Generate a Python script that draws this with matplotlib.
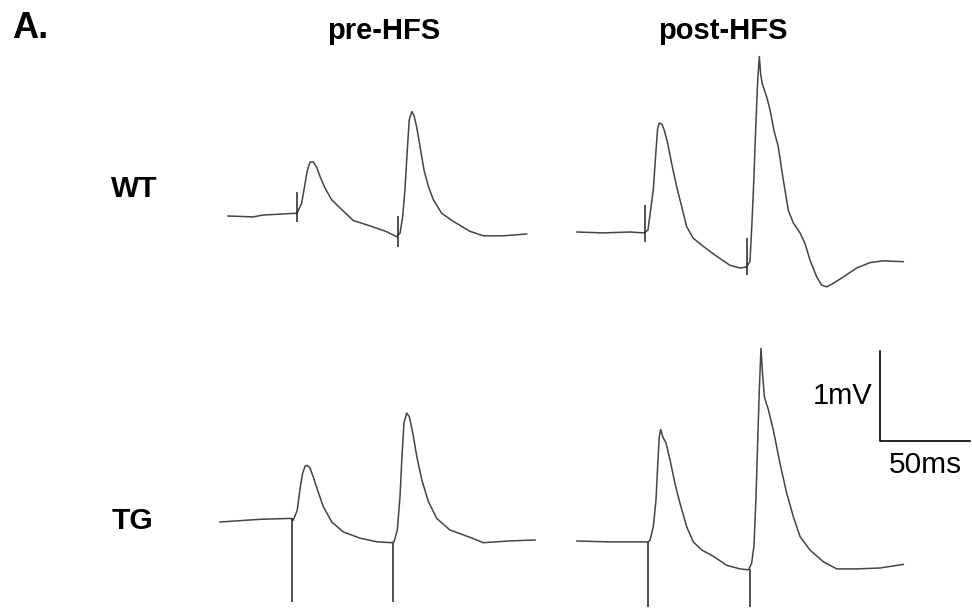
import matplotlib
matplotlib.use("Agg")
import matplotlib.pyplot as plt
import numpy as np

plt.rcParams['font.family'] = ['Liberation Sans', 'DejaVu Sans']

# sweeps: time (ms) from sweep start, voltage (mV) relative to baseline
wt_pre_t = [0, 13.9, 19.4, 37.2, 38.3, 40.9, 42.8, 44.1, 45.6, 47.4, 49.3, 51.1, 53.9, 57.6,
            62.2, 69.6, 78.9, 87.6, 93.7, 95.6, 97.0, 98.3, 99.6, 100.7, 102.1, 103.3, 104.8,
            106.7, 108.9, 111.3, 114.1, 118.7, 125.2, 134.4, 141.8, 152.9, 165.9]
wt_pre_v = [0, -0.01, 0.01, 0.03, 0.03, 0.14, 0.36, 0.51, 0.60, 0.60, 0.54, 0.44, 0.31, 0.18,
            0.09, -0.05, -0.11, -0.17, -0.23, -0.19, -0.01, 0.29, 0.73, 1.07, 1.16, 1.12, 0.99,
            0.77, 0.51, 0.33, 0.18, 0.03, -0.06, -0.17, -0.22, -0.22, -0.20]
wt_pre_stim = [38.3, 94.4]
wt_pre_hi = [0.27, 0.00]
wt_pre_lo = [-0.07, -0.34]

wt_post_t = [0, 14.4, 29.4, 37.2, 39.4, 42.4, 43.9, 44.8, 45.7, 47.1, 48.5, 50.2, 52.6, 55.4,
             58.2, 60.9, 64.6, 70.2, 77.6, 85.0, 90.6, 93.9, 96.1, 97.2, 98.3, 99.4, 100.4,
             101.3, 102.0, 102.9, 105.4, 107.2, 109.4, 111.8, 114.6, 117.4, 120.2, 123.9,
             126.7, 129.4, 133.2, 135.9, 138.7, 142.4, 147.9, 155.4, 162.8, 170.2, 181.3]
wt_post_v = [0, -0.01, 0, -0.01, 0.02, 0.47, 0.91, 1.15, 1.21, 1.20, 1.13, 1.00, 0.76, 0.50,
             0.28, 0.06, -0.07, -0.16, -0.27, -0.37, -0.40, -0.39, -0.33, 0.10, 0.61, 1.21, 1.69,
             1.95, 1.76, 1.65, 1.50, 1.36, 1.13, 0.95, 0.58, 0.24, 0.10, -0.01,
             -0.13, -0.31, -0.50, -0.59, -0.61, -0.57, -0.50, -0.40, -0.34, -0.32, -0.33]
wt_post_stim = [37.8, 94.4]
wt_post_hi = [0.30, -0.07]
wt_post_lo = [-0.11, -0.48]

tg_pre_t = [0, 22.2, 39.4, 40.7, 42.9, 44.4, 45.9, 47.2, 48.5, 50.0, 51.8, 54.1, 57.4, 62.1,
            68.5, 77.8, 87.1, 95.4, 96.7, 98.5, 100.0, 101.1, 102.2, 103.7, 105.2, 107.1, 109.3,
            112.1, 115.7, 120.4, 127.8, 138.9, 146.3, 161.1, 175.0]
tg_pre_v = [0, 0.03, 0.04, 0.02, 0.13, 0.36, 0.54, 0.62, 0.63, 0.60, 0.50, 0.36, 0.17, 0.00,
            -0.11, -0.18, -0.22, -0.23, -0.22, -0.09, 0.28, 0.73, 1.10, 1.21, 1.17, 0.99, 0.73,
            0.47, 0.23, 0.04, -0.09, -0.17, -0.23, -0.21, -0.20]
tg_pre_stim = [40.0, 96.1]
tg_pre_hi = [0.04, -0.23]
tg_pre_lo = [-0.89, -0.89]

tg_post_t = [0, 18.3, 39.4, 40.6, 42.4, 43.9, 44.8, 45.7, 46.5, 47.6, 49.4, 51.7, 54.4, 57.2,
             60.9, 64.6, 69.3, 75.7, 83.2, 90.6, 95.2, 97.0, 98.3, 99.4, 100.4, 101.3, 102.2,
             103.2, 104.1, 106.3, 109.1, 112.8, 116.5, 120.2, 123.9, 129.4, 136.8, 144.3,
             155.4, 168.3, 181.3]
tg_post_v = [0, -0.01, -0.01, 0.01, 0.16, 0.46, 0.83, 1.16, 1.24, 1.16, 1.09, 0.90, 0.64, 0.42,
             0.16, -0.01, -0.10, -0.17, -0.27, -0.31, -0.32, -0.25, -0.06, 0.46, 1.12, 1.68, 2.14,
             1.83, 1.60, 1.46, 1.23, 0.86, 0.53, 0.27, 0.05, -0.10, -0.23, -0.31,
             -0.31, -0.30, -0.26]
tg_post_stim = [39.4, 96.1]
tg_post_hi = [-0.01, -0.31]
tg_post_lo = [-0.73, -0.73]

# layout: 1.8 px per ms, 90 px per mV
PX_MS = 1.8
PX_MV = 90.0
W, H = 972, 609

def ms(px):
    return px / PX_MS

def mv(py):
    return -py / PX_MV

fig = plt.figure(figsize=(W / 100, H / 100), dpi=100)
ax = fig.add_axes([0, 0, 1, 1])
ax.set_xlim(0, ms(W))
ax.set_ylim(mv(H), 0)
ax.axis('off')

sweeps = [
    (wt_pre_t, wt_pre_v, wt_pre_stim, wt_pre_hi, wt_pre_lo, 228, 216),
    (wt_post_t, wt_post_v, wt_post_stim, wt_post_hi, wt_post_lo, 577, 232),
    (tg_pre_t, tg_pre_v, tg_pre_stim, tg_pre_hi, tg_pre_lo, 220, 522),
    (tg_post_t, tg_post_v, tg_post_stim, tg_post_hi, tg_post_lo, 577, 541),
]
for t, v, st, hi, lo, x0, y0 in sweeps:
    t = np.array(t) + ms(x0)
    v = np.array(v) + mv(y0)
    ax.plot(t, v, color='#444444', lw=1.1, solid_joinstyle='round')
    ax.vlines(np.array(st) + ms(x0), np.array(lo) + mv(y0), np.array(hi) + mv(y0),
              color='#222222', lw=1.1)

# scale bar 50 ms x 1 mV
sx, sy = ms(880), mv(441)
ax.plot([sx, sx, sx + 50], [sy + 1, sy, sy], color='black', lw=1.2)
ax.text(sx - ms(8), sy + 0.5, '1mV', ha='right', va='center', fontsize=21)
ax.text(sx + 25, mv(465), '50ms', ha='center', va='center', fontsize=21.5)

ax.text(ms(12), mv(28), 'A.', ha='left', va='center', fontsize=26, fontweight='bold')
ax.text(ms(384), mv(31), 'pre-HFS', ha='center', va='center', fontsize=21, fontweight='bold')
ax.text(ms(723), mv(31), 'post-HFS', ha='center', va='center', fontsize=21, fontweight='bold')
ax.text(ms(134), mv(189), 'WT', ha='center', va='center', fontsize=21.5, fontweight='bold')
ax.text(ms(133), mv(521), 'TG', ha='center', va='center', fontsize=21.5, fontweight='bold')

fig.savefig('out.png', dpi=100)
